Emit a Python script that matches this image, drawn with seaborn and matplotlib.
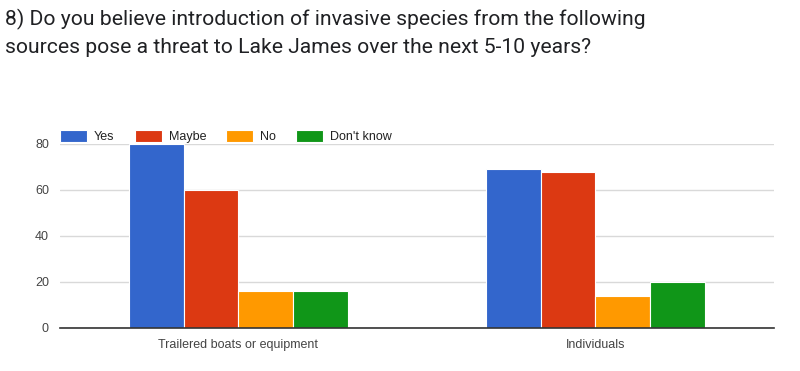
import matplotlib
matplotlib.use("Agg")
import matplotlib.pyplot as plt
import seaborn as sns
import pandas as pd

sources = ["Trailered boats or equipment", "Individuals"]
answers = ["Yes", "Maybe", "No", "Don't know"]
yes_counts = [80, 69]
maybe_counts = [60, 68]
no_counts = [16, 14]
dont_know_counts = [16, 20]
colors = ["#3366cc", "#dc3912", "#ff9900", "#109618"]

rows = []
for ans, vals in zip(answers, [yes_counts, maybe_counts, no_counts, dont_know_counts]):
    for src, v in zip(sources, vals):
        rows.append({"source": src, "answer": ans, "count": v})
data = pd.DataFrame(rows)

sns.set_style("white")
plt.rcParams['font.family'] = ['Liberation Sans', 'DejaVu Sans']

fig = plt.figure(figsize=(8, 3.71), dpi=100)
ax = fig.add_axes([0.075, 0.116, 0.8925, 0.496])

sns.barplot(data=data, x="source", y="count", hue="answer", order=sources,
            hue_order=answers, palette=colors, saturation=1, width=0.614, gap=0,
            edgecolor="white", linewidth=0.8, ax=ax, legend=True)

ax.set_ylim(0, 80)
ax.set_xlim(-0.5, 1.5)
ax.set_yticks([0, 20, 40, 60, 80])
ax.yaxis.grid(True, color="#d9d9d9", linewidth=1)
ax.set_axisbelow(True)
for s in ["top", "right", "left"]:
    ax.spines[s].set_visible(False)
ax.spines["bottom"].set_color("#333333")
ax.spines["bottom"].set_linewidth(1.2)
ax.tick_params(axis="both", length=0, labelsize=9, colors="#444444", pad=8)
ax.set_xlabel("")
ax.set_ylabel("")

handles, labels = ax.get_legend_handles_labels()
ax.get_legend().remove()
fig.legend(handles, labels, loc="center left", bbox_to_anchor=(0.075, 0.631), ncol=4,
           frameon=False, fontsize=9, handlelength=2.17, handleheight=1.0,
           columnspacing=1.6, handletextpad=0.55, labelcolor="#222222",
           borderpad=0, borderaxespad=0)

fig.text(0.006, 0.975, "8) Do you believe introduction of invasive species from the following\nsources pose a threat to Lake James over the next 5-10 years?",
         fontsize=15.2, family="Roboto", color="#202124", va="top", ha="left", linespacing=1.5)

fig.savefig("out.png", dpi=100)
